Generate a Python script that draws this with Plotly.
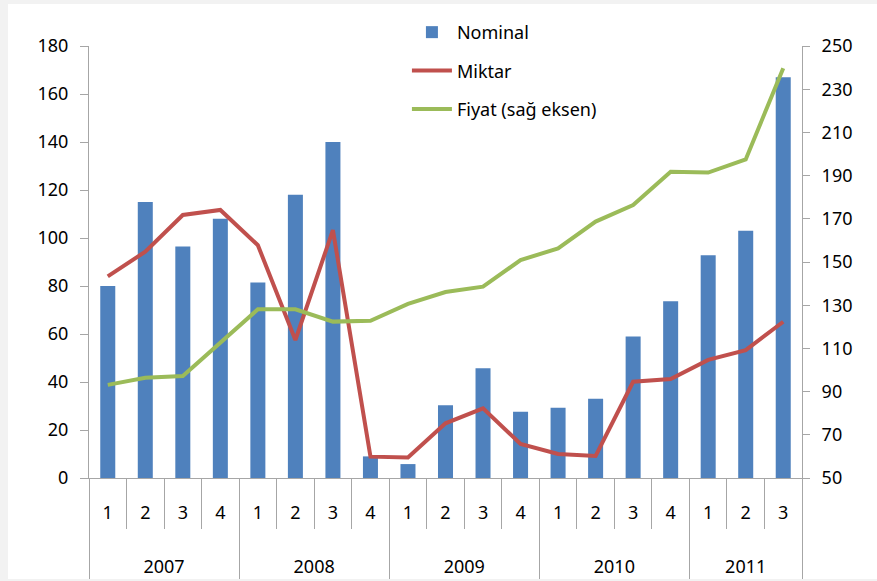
import plotly.graph_objects as go

years = ["2007"] * 4 + ["2008"] * 4 + ["2009"] * 4 + ["2010"] * 4 + ["2011"] * 3
quarters = ["1", "2", "3", "4"] * 4 + ["1", "2", "3"]

nominal = [80, 115, 96.5, 108, 81.5, 118, 140, 9, 5.8, 30.3, 45.7, 27.6, 29.3, 33, 59, 73.6, 92.8, 103, 167]
miktar = [84, 94.3, 109.6, 111.7, 97, 57.5, 103.3, 8.9, 8.5, 22.8, 29, 14.2, 10, 9.2, 40.1, 41.2, 49.2, 53.3, 65.1]
fiyat = [93.1, 96.4, 97.2, 112.4, 128.1, 128.1, 122.4, 122.8, 130.6, 136.1, 138.6, 150.9, 156.3, 168.7, 176.4, 191.8, 191.4, 197.5, 239.7]

FONT = "Noto Sans, Liberation Sans, sans-serif"
FS = 18
AXC = "#a6a6a6"

# year labels get leading blank lines so they sit lower, as in the reference
year_labels = ["\u00a0<br>\u00a0<br>" + y for y in years]

fig = go.Figure()
fig.add_trace(go.Bar(x=[year_labels, quarters], y=nominal, name="Nominal", legendgroup="a",
                     marker=dict(color="#4F81BD", line=dict(width=0))))
fig.add_trace(go.Scatter(x=[year_labels, quarters], y=miktar, name="Miktar", mode="lines",
                         legendgroup="b", line=dict(color="#C0504D", width=4)))
fig.add_trace(go.Scatter(x=[year_labels, quarters], y=fiyat, name="Fiyat (sağ eksen)", mode="lines",
                         legendgroup="c", line=dict(color="#9BBB59", width=4), yaxis="y2"))

fig.update_layout(
    width=877, height=581,
    margin=dict(l=89, r=75, t=46, b=103, autoexpand=False),
    paper_bgcolor="#f2f2f2", plot_bgcolor="white",
    font=dict(family=FONT, size=FS, color="#000000"),
    bargap=0.6,
    showlegend=True,
    legend=dict(xref="container", yref="container", x=0.464, y=0.976,
                xanchor="left", yanchor="top",
                bgcolor="rgba(0,0,0,0)", font=dict(size=FS, family=FONT),
                itemwidth=40, tracegroupgap=12, traceorder="grouped"),
    xaxis=dict(type="multicategory", showline=True, linecolor=AXC, linewidth=1,
               ticks="outside", ticklen=50, tickcolor=AXC, tickson="boundaries",
               showdividers=True, dividercolor=AXC, dividerwidth=1,
               showgrid=False, zeroline=False, automargin=False,
               ticklabelstandoff=18,
               tickfont=dict(size=FS, family=FONT)),
    yaxis=dict(range=[0, 180], dtick=20, tick0=0, showline=True, linecolor=AXC,
               ticks="outside", ticklen=8, tickcolor=AXC, showgrid=False, zeroline=False,
               automargin=False, ticklabelstandoff=8,
               tickfont=dict(size=FS, family=FONT)),
    yaxis2=dict(range=[50, 250], dtick=20, tick0=50, overlaying="y", side="right",
                showline=True, linecolor=AXC, ticks="outside", ticklen=7, tickcolor=AXC,
                showgrid=False, zeroline=False, automargin=False, ticklabelstandoff=8,
                tickfont=dict(size=FS, family=FONT)),
    shapes=[
        dict(type="rect", xref="paper", yref="paper", x0=-0.1136, x1=1.2, y0=-0.2338, y1=1.097,
             fillcolor="white", line=dict(width=0), layer="below"),
    ],
)

fig.write_html("out.html", config={"displayModeBar": False},
               post_script="document.body.style.margin='0';")
